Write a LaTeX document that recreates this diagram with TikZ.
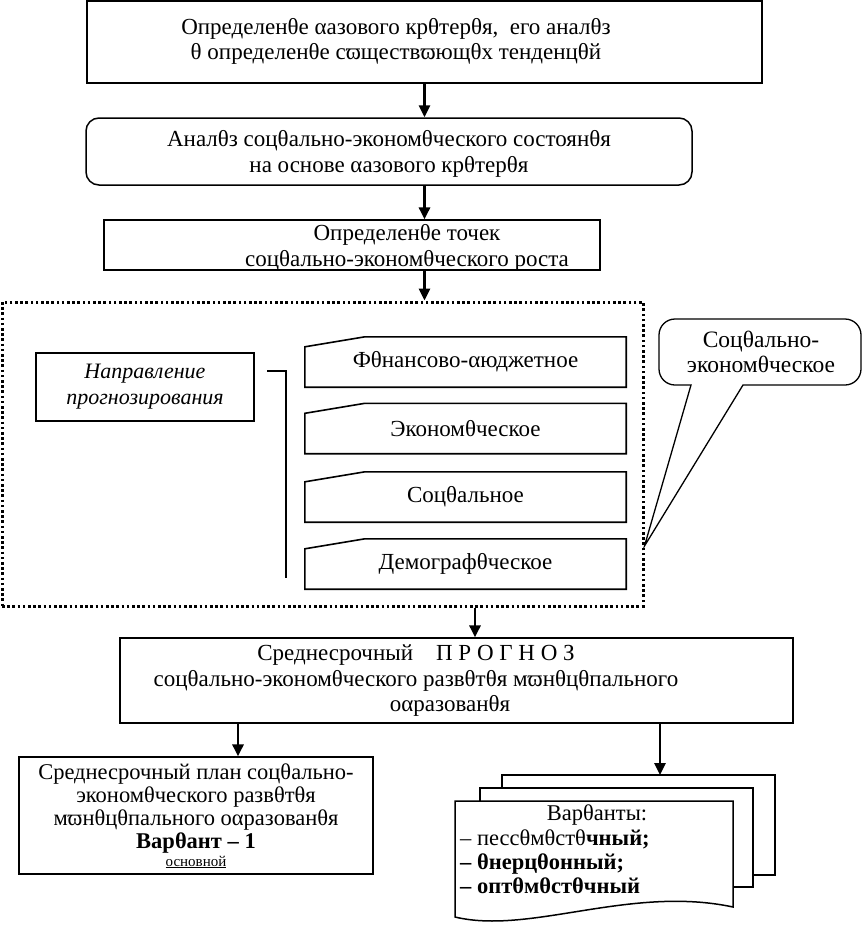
\documentclass[tikz,border=0pt]{standalone}
\usepackage{fontspec}
\setmainfont{Liberation Serif}
\usetikzlibrary{arrows.meta,calc}
\begin{document}
\begin{tikzpicture}[x=1pt,y=-1pt,
  every node/.style={font=\fontsize{23}{25.5}\selectfont, align=center, inner sep=0pt},
  box/.style={draw, line width=1.2pt},
  fbox/.style={minimum width=321pt, minimum height=50pt},
  fshape/.style={line width=1.6pt},
  arr/.style={line width=2.8pt, -{Triangle[length=12pt,width=11pt]}},
  dots/.style={line width=3pt, dash pattern=on 2.6pt off 2.6pt},
  sheet/.style={line width=1.5pt, fill=white},
  ]
\useasboundingbox (0,0) rectangle (863,927);

% top boxes
\node[box, minimum width=675pt, minimum height=82pt] (b1) at (424.5,42) {};
\node (b1t) at (396,41.5)
  {Определенθе αазового крθтерθя,\ \ его аналθз\\θ определенθе сϖществϖющθх тенденцθй};
\node[box, line width=1.5pt, rounded corners=13pt, minimum width=606pt, minimum height=67pt] (b2) at (389,151.5) {};
\node (b2t) at (389,154)
  {Аналθз соцθально-экономθческого состоянθя\\на основе αазового крθтерθя};
\node[box, minimum width=496pt, minimum height=50pt] (b3) at (352,245) {};
\node (b3t) at (407,248)
  {Определенθе точек\\соцθально-экономθческого роста};

% dotted frame
\node[dots, draw, minimum width=641pt, minimum height=304pt] (fr) at (322.5,454) {};

% direction box
\node[box, minimum width=218pt, minimum height=68pt, font=\fontsize{22}{26}\selectfont\itshape] (nap) at (145,387)
  {Направление\\прогнозирования};
\coordinate (br1) at (267,371);
\coordinate (br2) at (286,371);
\coordinate (br3) at (286,578);
\draw[line width=1.5pt] (br1) -- (br2) -- (br3);

% slanted boxes
\foreach \n/\y/\t in {f1/362/{Фθнансово-αюджетное}, f2/428.5/{Экономθческое}, f3/497/{Соцθальное}, f4/564/{Демографθческое}}{
  \node[fbox] (\n) at (465.5,\y) {\t};
  \draw[fshape] (\n.south west) -- ([yshift=-10pt]\n.north west) -- ([xshift=60pt]\n.north west)
     -- (\n.north east) -- (\n.south east) -- cycle;
}

% callout
\node[font=\fontsize{23.5}{25}\selectfont] (cal) at (761,352) {Соцθально-\\экономθческое};
\coordinate (tip) at (fr.east |- 0,546);
\draw[line width=1.3pt] (691,385) [rounded corners=16pt] -- (659,385) -- (659,319) -- (861,319) -- (861,385) [sharp corners] -- (743,385) -- (tip) -- cycle;

% forecast box
\node[box, minimum width=673pt, minimum height=85pt] (pr) at (456.5,680.5) {};
\node (prt) at (416,668)
  {Среднесрочный\quad П Р О Г Н О З\\соцθально-экономθческого развθтθя мϖнθцθпального};
\node (prt3) at (450,706) {оαразованθя};

% plan box
\node[box, minimum width=354pt, minimum height=117pt] (lb) at (196,815.5) {};
\node[font=\fontsize{22.5}{23}\selectfont] (lbt) at (196,808.5)
  {Среднесрочный план соцθально-\\экономθческого развθтθя\\мϖнθцθпального оαразованθя\\\textbf{Варθант – 1}};
\node[font=\fontsize{15}{16}\selectfont] (lbo) at (196,862) {\underline{основной}};

% documents
\draw[sheet] (502,788) -- (502,775) -- (775,775) -- (775,875) -- (753,875);
\draw[sheet] (480,801) -- (480,788) -- (753,788) -- (753,887) -- (733,887);
\draw[sheet] (455,917) -- (455,801) -- (733,801) -- (733,907) .. controls (630,885) and (530,935) .. cycle;
\coordinate (dtop) at (660,775);
\node[font=\fontsize{22.5}{24}\selectfont] (vt) at (597,815) {Варθанты:};
\node[align=left, anchor=north west, font=\fontsize{22.5}{24}\selectfont] (vl) at (460,830)
  {– пессθмθстθ\textbf{чный;}\\\textbf{– θнерцθонный;}\\\textbf{– оптθмθстθчный}};

% arrows
\coordinate (ax4) at (475,0);
\coordinate (ax5) at (238,0);
\draw[arr] (b1.south) -- (b1.south |- b2.north);
\draw[arr] (b1.south |- b2.south) -- (b1.south |- b3.north);
\draw[arr] (b1.south |- b3.south) -- (b1.south |- fr.north);
\draw[arr] (ax4 |- fr.south) -- (ax4 |- pr.north);
\draw[arr] (ax5 |- pr.south) -- (ax5 |- lb.north);
\draw[arr] (dtop |- pr.south) -- (dtop);
\end{tikzpicture}
\end{document}
